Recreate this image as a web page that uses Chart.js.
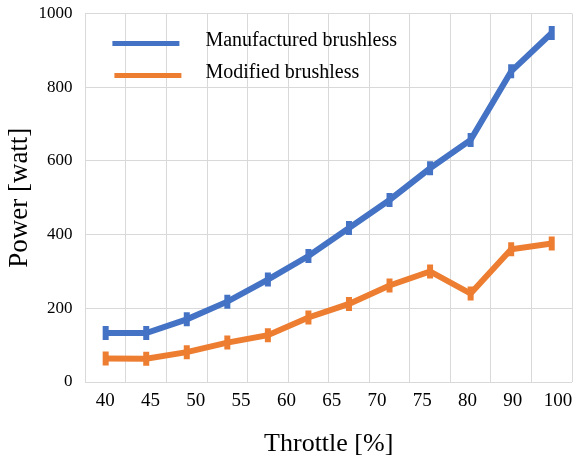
<!DOCTYPE html>
<html>
<head>
<meta charset="utf-8">
<script src="https://cdn.jsdelivr.net/npm/chart.js@4/dist/chart.umd.min.js"></script>
<style>
  html, body { margin: 0; padding: 0; background: #fff; }
  #wrap { width: 574px; height: 464px; }
</style>
</head>
<body>
<div id="wrap"><canvas id="powerChart"></canvas></div>
<script>
// measured points (throttle positions as plotted)
const pointLabels = ['40', '44.5', '49', '53.5', '58', '62', '66.5', '71', '75.5', '80.5', '90', '99'];
const manufactured = [133, 133, 170, 218, 278, 342, 418, 494, 580, 657, 843, 947];
const modified = [64, 63, 81, 107, 127, 175, 212, 262, 300, 240, 360, 376];
const tickLabels = ['40', '45', '50', '55', '60', '65', '70', '75', '80', '90', '100'];
const seriesNames = ['Manufactured brushless', 'Modified brushless'];

const serif = "'Liberation Serif', 'Times New Roman', serif";
const gridColor = '#d9d9d9';

// legend drawn inside the plot, top-left
const insideLegend = {
  id: 'insideLegend',
  afterDatasetsDraw(chart) {
    const { ctx, chartArea } = chart;
    ctx.save();
    ctx.font = '20px ' + serif;
    ctx.textBaseline = 'middle';
    chart.data.datasets.forEach((ds, i) => {
      const y = chartArea.top + 30 + i * 32;
      const x0 = chartArea.left + 27 + i * 2;
      ctx.strokeStyle = ds.borderColor;
      ctx.lineWidth = 5;
      ctx.beginPath();
      ctx.moveTo(x0, y);
      ctx.lineTo(x0 + 67, y);
      ctx.stroke();
      ctx.fillStyle = '#000';
      ctx.fillText(ds.label, chartArea.left + 120, y - 3);
    });
    ctx.restore();
  }
};

const ctx = document.getElementById('powerChart').getContext('2d');
new Chart(ctx, {
  type: 'line',
  data: {
    labels: pointLabels,
    datasets: [
      {
        label: seriesNames[0],
        data: manufactured,
        borderColor: '#4472C4',
        backgroundColor: '#4472C4',
        borderWidth: 6,
        pointStyle: 'line',
        rotation: 90,
        pointRadius: 7,
        pointBorderWidth: 6,
        tension: 0
      },
      {
        label: seriesNames[1],
        data: modified,
        borderColor: '#ED7D31',
        backgroundColor: '#ED7D31',
        borderWidth: 6,
        pointStyle: 'line',
        rotation: 90,
        pointRadius: 7,
        pointBorderWidth: 6,
        tension: 0
      }
    ]
  },
  options: {
    responsive: true,
    maintainAspectRatio: false,
    animation: false,
    layout: {
      autoPadding: false,
      padding: { left: 4, right: 2, top: 0, bottom: 4 }
    },
    plugins: {
      legend: { display: false },
      tooltip: { enabled: false }
    },
    scales: {
      x: {
        type: 'category',
        offset: true,
        weight: 0,
        // empty strip between plot and tick labels
        afterFit: axis => { axis.height = 8; },
        grid: { color: gridColor, offset: true, drawTicks: false },
        border: { display: false },
        ticks: { display: false }
      },
      x2: {
        type: 'linear',
        position: 'bottom',
        weight: 1,
        min: -0.44,
        max: 10.31,
        afterBuildTicks: axis => {
          axis.ticks = tickLabels.map((_, i) => ({ value: i }));
        },
        grid: { display: false, drawTicks: false },
        border: { display: false },
        ticks: {
          color: '#000',
          font: { family: serif, size: 19 },
          padding: 0,
          maxRotation: 0,
          autoSkip: false,
          callback: v => tickLabels[v]
        },
        title: {
          display: true,
          text: 'Throttle [%]',
          color: '#000',
          font: { family: serif, size: 26 },
          padding: { top: 16, bottom: 0 }
        }
      },
      y: {
        min: 0,
        max: 1000,
        // chart.js counts tick padding twice; take one back
        afterFit: axis => {
          axis.width -= 13;
          axis.paddingTop = 13.5;
          axis.paddingBottom = 0;
        },
        ticks: {
          stepSize: 200,
          color: '#000',
          font: { family: serif, size: 17 },
          padding: 13,
          callback: v => String(v)
        },
        grid: { color: gridColor, drawTicks: false },
        border: { display: false },
        title: {
          display: true,
          text: 'Power [watt]',
          color: '#000',
          font: { family: serif, size: 27 },
          padding: { top: 0, bottom: 2 }
        }
      }
    }
  },
  plugins: [insideLegend]
});
</script>
</body>
</html>
